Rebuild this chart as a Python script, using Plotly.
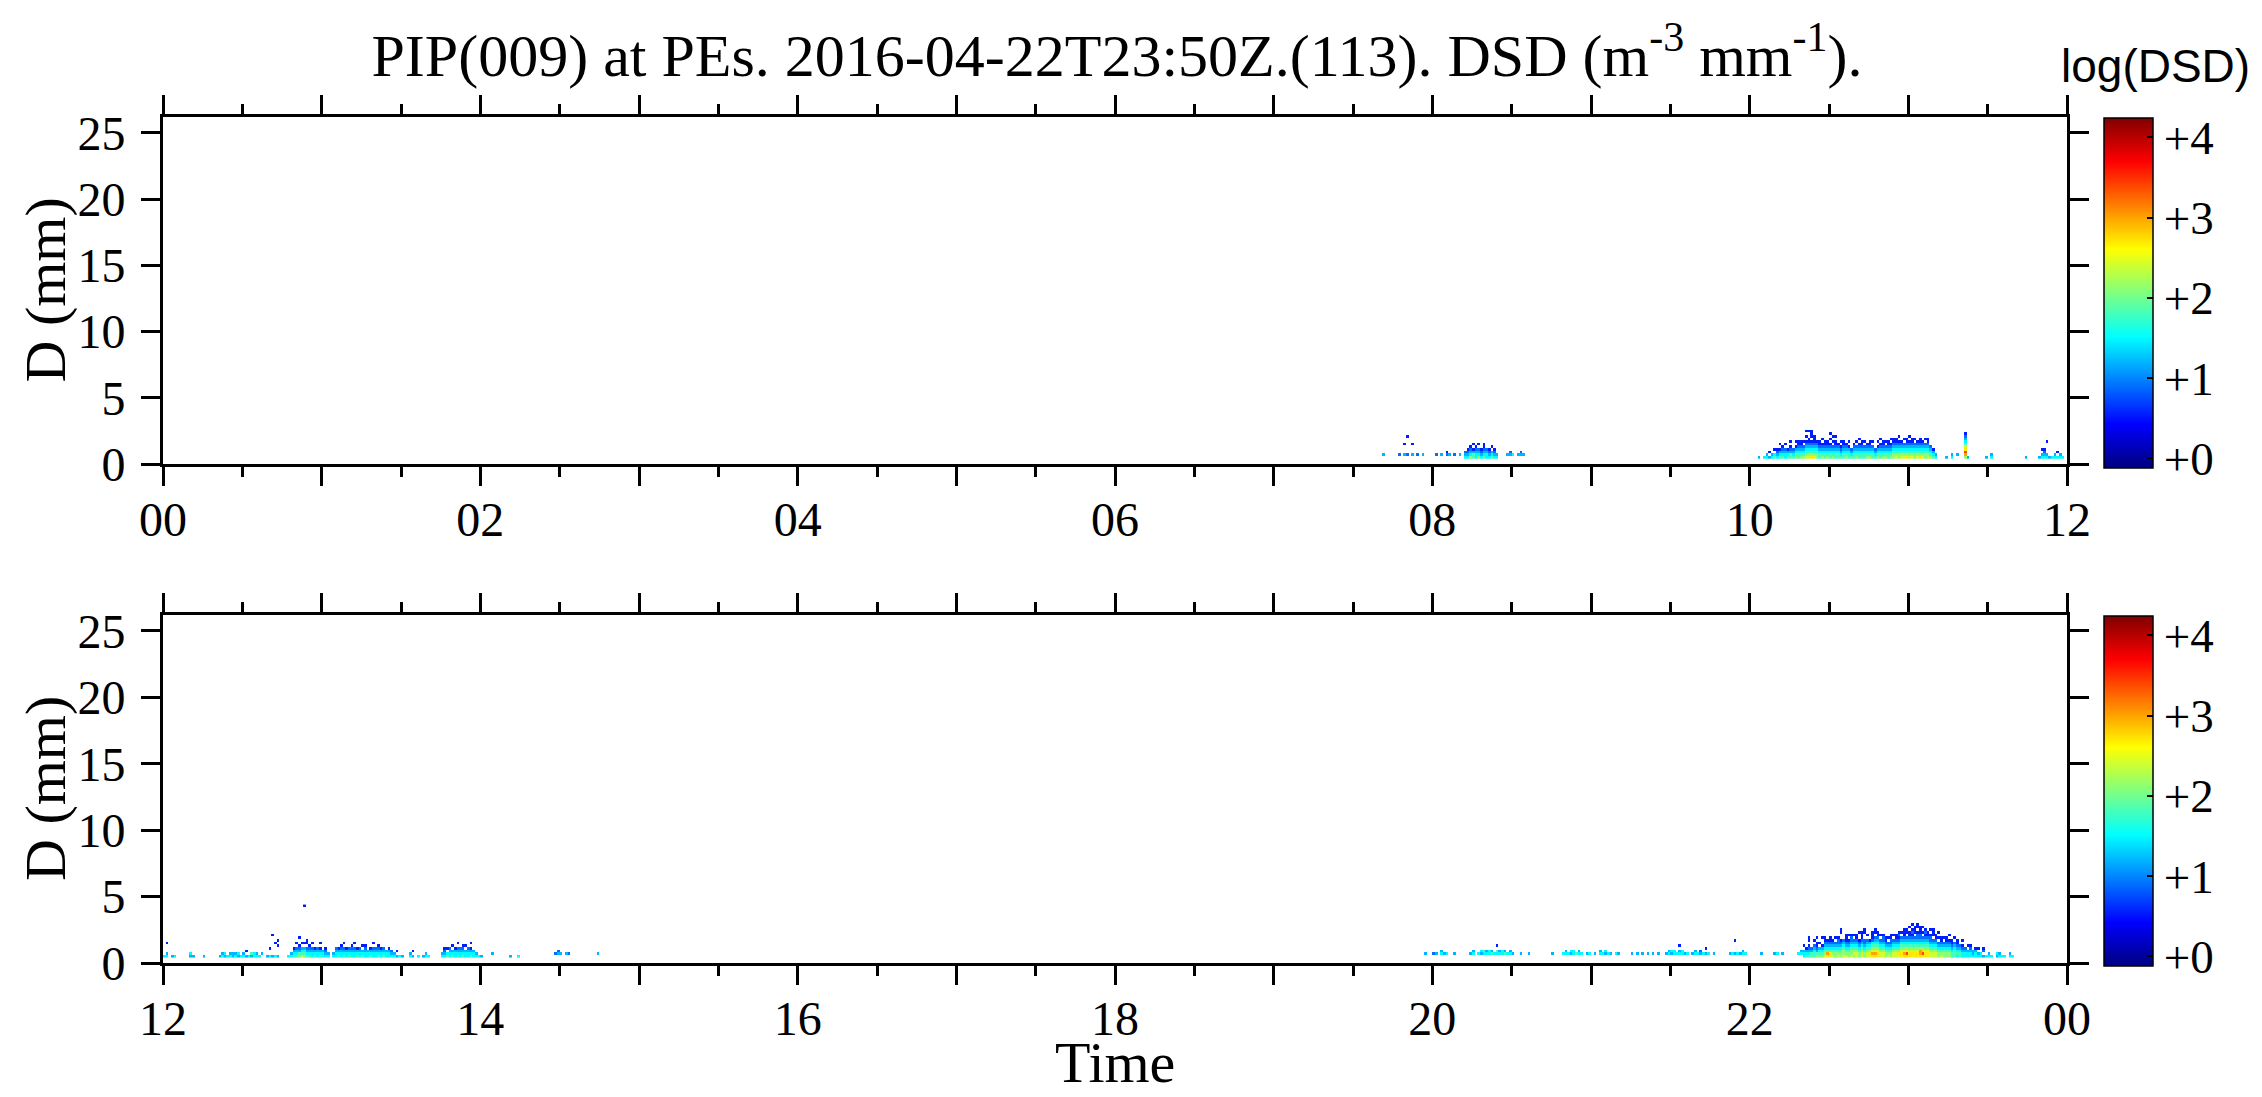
import plotly.graph_objects as go

# ---------------- data ----------------
# Diameter bins (mm): first bin lower edge and bin width
D_FIRST_EDGE = 0.4
D_BIN_WIDTH = 0.2
N_D_BINS = 20
N_MINUTES = 720  # minutes per panel (12 h)

# log(DSD) level codes used in the column strings (bottom bin upward, '.' = no data)
LEVEL_CODES = ["1", "2", "3", "4", "5", "6", "7", "8", "9", "a"]
LEVEL_VALUES = [0.55, 0.9, 1.2, 1.5, 1.8, 2.1, 2.4, 2.7, 3.0, 3.4]

# Top panel (00-12 UTC): minute of day and column of log(DSD) codes
TOP_MINUTES = [
    461, 467, 469, 470, 472, 474, 476, 481, 483, 485, 486, 488, 490,
    492, 493, 494, 495, 496, 497, 498, 499, 500, 501, 502, 503, 504,
    508, 509, 510, 512, 513, 514,
    603, 605, 606, 607, 608, 609, 610, 611, 612, 613, 614, 615, 616, 617, 618,
    619, 620, 621, 622, 623, 624, 625, 626, 627, 628, 629, 630, 631, 632, 633,
    634, 635, 636, 637, 638, 639, 640, 641, 642, 643, 644, 645, 646, 647, 648,
    649, 650, 651, 652, 653, 654, 655, 656, 657, 658, 659, 660, 661, 662, 663,
    664, 665, 666, 667, 668, 669, 670, 674, 676, 678, 681, 682, 689, 691,
    704, 709, 710, 711, 712, 713, 714, 715, 716, 717, 718,
]
TOP_COLUMNS = [
    ".3", ".2", ".3...1", ".2......1", ".3...1", ".2", ".3", ".2", ".3", ".21", ".3", ".2", ".3",
    "432", "4321", "64321", "5531.1", "44321", "6432.1", "4321", "543211", "4432", "4321", "543.1", "4321", "43",
    ".3", ".32", ".4", ".3", ".32", ".3",
    "3", "4", "43", "3.1", "43", "54.1", "4321", "5431.1", "54321", "4432.1", "5431", "55321.1", "5432", "65431.1", "5543211",
    "6543211", "65432.1", "7654321.1.1", "76543211..1", "8654321.111", "765432111", "6654321", "5543211", "654321.1", "5543211", "6543211", "554321.1.1", "65432.1.1", "5543211.1", "554321",
    "54321.1", "5543211", "654321", "55431.1", "5432", "554321", "65432.1", "554321.1", "5543211", "55432.1", "654321", "6543211", "55432.1", "5432", "65431.1",
    "554321.1", "6543211", "65432.1", "5543211", "654321.1", "66543211", "76543211", "6654321.1", "7654321", "765432.1", "86543211", "7654321.1", "76543211", "665432.1", "7654321",
    "86543211", "7654321", "665432.1", "76543211", "65432", "5431", "43", "3", "43", ".3", "69a8754321", "3", "3", "43",
    "3", "3", "43.1", "4321", "43....1", "3", "4", "43", "4.1", "43", "4",
]

# Bottom panel (12-24 UTC): minute after 12 UTC and column of log(DSD) codes
BOT_MINUTES = [
    0, 1, 3, 4, 10, 11, 15,
    21, 22, 23, 24, 25, 26, 27, 28, 29, 30, 31, 32, 33, 34, 35, 36, 37,
    39, 40, 41, 42, 43,
    47, 48, 49, 50, 51, 52, 53, 54, 55, 56, 57, 58, 59, 60, 61, 62,
    64, 65, 66, 67, 68, 69, 70, 71, 72, 73, 74, 75, 76, 77, 78, 79, 80, 81, 82, 83, 84, 85, 86, 87, 88, 89, 90,
    93, 94, 96, 98, 99, 100,
    105, 106, 107, 108, 109, 110, 111, 112, 113, 114, 115, 116, 117, 118, 119, 120,
    124, 131, 134, 148, 149, 150, 152, 153, 164,
    477, 480, 481, 483, 484, 485, 488,
    494, 495, 497, 498, 499, 500, 501, 502, 503, 504, 505, 506, 507, 508, 509, 510, 513, 516, 525,
    529, 530, 531, 532, 533, 534, 535, 536, 538, 539, 541, 543, 544, 545, 546, 547, 549, 550,
    555, 557, 559, 561, 563, 565, 568, 569, 570, 571, 572, 573, 574, 575, 576,
    578, 579, 580, 581, 582, 583, 584, 586, 592, 593, 594, 595, 596, 597, 598,
    604, 609, 610, 612, 618, 619, 620,
    621, 622, 623, 624, 625, 626, 627, 628, 629, 630, 631, 632, 633, 634, 635, 636, 637, 638, 639, 640,
    641, 642, 643, 644, 645, 646, 647, 648, 649, 650, 651, 652, 653, 654, 655, 656, 657, 658, 659, 660,
    661, 662, 663, 664, 665, 666, 667, 668, 669, 670, 671, 672, 673, 674, 675, 676, 677, 678, 679, 680,
    681, 682, 683, 684, 685, 686, 687, 688, 689, 690, 691, 693, 694, 695, 696, 698, 699, 701,
]
BOT_COLUMNS = [
    "4", "43...1", "3", "4", "34", "3", "3",
    "3", "43", "34", "4", "43", "33", "43", "34", "4", "43", "3.1", "4", "35", "44", "43", "4", ".3",
    "3", "4..1", "3.......1", "4....1", "3...1.1",
    "4", "43", "5431", "5432.1", "65321..1", "7543.1", "6543.1.............1", "5432.11", "54321", "4432.1", "5431", "4432", "5431.1", "443", "4321", "43",
    "43", "4432", "5431", "44321", "5432.1", "4431", "5432", "44321", "4432.1", "5431", "4432", "543.1", "44321", "443", "5431", "4432.1", "4432", "54321", "4431", "5432", "443", "4431", "432", "43", "3.1", "4", "3",
    "43", "3.1", "4", "3", "43", "4",
    "43", "4321", "54.1", "4432", "543.1", "4431", "5432.1", "4432", "54321", "443.1", "4432", "5431.1", "443", "43", "4", "3",
    ".3", "3", "4", ".2", ".32", ".3", ".3", ".2", ".3",
    ".3", ".2", ".3", ".43", ".3", ".4", ".3",
    ".3", ".43", ".4", ".34", ".45", ".43", ".44", ".53", ".4", ".45.1", ".43", ".44", ".53", ".4", ".43", ".3", ".3", ".3", ".3",
    ".4", ".43", ".4", ".34", ".44", ".5", ".43", ".4", ".3", ".4", ".3", ".43", ".4", ".34", ".4", ".3", ".4", ".3",
    ".3", ".3", ".3", ".3", ".3", ".3", ".3", ".43", ".34", ".44", ".4", ".43.1", ".44", ".3", ".4",
    ".3", ".43", ".4", ".32", ".4", ".3.1", ".4", ".3", ".3", ".4", ".3....1", ".4", ".3", ".43", ".4",
    ".3", ".3", ".4", ".3", ".4", ".43", "443.1",
    "5431", "54321.11", "5532", "55432.1", "653211.1", "6543.1", "65431..1", "76543211", "8954321", "78543211", "7654321", "665432.1", "76543221", "6654321..11", "7665432", "765432111", "6654321.1", "766543221", "6765432.1", "776543211",
    "6654321..1", "7765432111", "6654322..11", "7765432.1", "8865431", "8976542111", "89765432.11", "8876543211", "7765432.1", "776543221", "66543211", "765432.1", "665432211", "7765432.1", "776543211", "7865432121", "88765432.1", "89765432111", "8a865432.11", "8876543211.1",
    "78765432121.1", "88765432.111", "8876543221.11", "899654322111", "8a865432.1.1", "88765432121", "7876543211", "776543221.1", "7765432.111", "776543211", "665432.1.1", "76543211", "665432.1", "66543211", "6654321.1", "5543211", "555432.1", "4543211", "55432", "44321.1",
    "4432", "443.1", "44321", "433", "4431", "43.1", "44", "3.21", "4", "43", "4", "34", "43", "4", "4", "43", "4",
]

# Axis tick labels
TOP_TICK_VALS = list(range(0, 13))
TOP_TICK_TEXT = ["00", "", "02", "", "04", "", "06", "", "08", "", "10", "", "12"]
BOT_TICK_VALS = list(range(12, 25))
BOT_TICK_TEXT = ["12", "", "14", "", "16", "", "18", "", "20", "", "22", "", "00"]
Y_TICK_VALS = [0, 5, 10, 15, 20, 25]
CB_TICK_VALS = [0, 1, 2, 3, 4]
CB_TICK_TEXT = ["+0", "+1", "+2", "+3", "+4"]

TITLE = "PIP(009) at PEs. 2016-04-22T23:50Z.(113). DSD (m<sup>-3</sup> mm<sup>-1</sup>)."

# ---------------- build grids ----------------
code_to_val = dict(zip(LEVEL_CODES, LEVEL_VALUES))


def build_grid(minutes, columns):
    z = [[None] * N_MINUTES for _ in range(N_D_BINS)]
    for m, col in zip(minutes, columns):
        for r, ch in enumerate(col):
            if ch in code_to_val:
                z[r][m] = code_to_val[ch]
    return z


z_top = build_grid(TOP_MINUTES, TOP_COLUMNS)
z_bot = build_grid(BOT_MINUTES, BOT_COLUMNS)
x_top = [(m + 0.5) / 60.0 for m in range(N_MINUTES)]
x_bot = [12 + (m + 0.5) / 60.0 for m in range(N_MINUTES)]
y_c = [D_FIRST_EDGE + D_BIN_WIDTH * (r + 0.5) for r in range(N_D_BINS)]

# ---------------- figure ----------------
W, H = 2262, 1097
SERIF = "Liberation Serif"
SANS = "Liberation Sans"

jet = [
    [0.0, "rgb(0,0,128)"],
    [0.125, "rgb(0,0,255)"],
    [0.375, "rgb(0,255,255)"],
    [0.625, "rgb(255,255,0)"],
    [0.875, "rgb(255,0,0)"],
    [1.0, "rgb(128,0,0)"],
]

PX0, PX1 = 163, 2067
TOP_Y0, TOP_Y1 = 117, 464
BOT_Y0, BOT_Y1 = 615, 963


def fx(px):
    return px / W


def fy(py):
    return 1 - py / H


fig = go.Figure()
fig.add_trace(go.Heatmap(x=x_top, y=y_c, z=z_top, coloraxis="coloraxis",
                         xaxis="x", yaxis="y", hoverongaps=False, zsmooth=False))
fig.add_trace(go.Heatmap(x=x_bot, y=y_c, z=z_bot, coloraxis="coloraxis2",
                         xaxis="x2", yaxis="y2", hoverongaps=False, zsmooth=False))

tickfont = dict(family=SERIF, size=48, color="black")
axis_common = dict(
    showline=True, linewidth=3, linecolor="black", mirror="ticks",
    ticks="outside", ticklen=19, tickwidth=3, tickcolor="black",
    showgrid=False, zeroline=False, tickfont=tickfont, automargin=False,
)
minor = dict(tickmode="linear", dtick=0.5, ticks="outside", ticklen=10,
             tickwidth=3, tickcolor="black", showgrid=False)


def cbar(ytop, ybot):
    return dict(
        x=fx(2104), xanchor="left", xpad=0, ypad=0,
        y=fy((ytop + ybot) / 2), yanchor="middle",
        len=(ybot - ytop) / H, lenmode="fraction",
        thickness=49, thicknessmode="pixels",
        outlinewidth=1.5, outlinecolor="black",
        tickmode="array", tickvals=CB_TICK_VALS, ticktext=CB_TICK_TEXT,
        ticks="inside", ticklen=6, tickwidth=1.5, tickcolor="black",
        tickfont=dict(family=SERIF, size=47, color="black"),
    )


fig.update_layout(
    width=W, height=H, autosize=False,
    margin=dict(l=0, r=0, t=0, b=0),
    paper_bgcolor="white", plot_bgcolor="white",
    template="none",
    showlegend=False,
    title=dict(text=TITLE, x=fx(1117), xanchor="center", y=fy(55), yanchor="middle",
               font=dict(family=SERIF, size=60, color="black")),
    xaxis=dict(domain=[fx(PX0), fx(PX1)], range=[0, 12], anchor="y",
               tickmode="array", tickvals=TOP_TICK_VALS, ticktext=TOP_TICK_TEXT,
               minor=dict(minor, tick0=0), ticklabelstandoff=-8, **axis_common),
    yaxis=dict(domain=[fy(TOP_Y1), fy(TOP_Y0)], range=[0, 26.2], anchor="x",
               tickmode="array", tickvals=Y_TICK_VALS, ticklabelstandoff=6, **axis_common),
    xaxis2=dict(domain=[fx(PX0), fx(PX1)], range=[12, 24], anchor="y2",
                tickmode="array", tickvals=BOT_TICK_VALS, ticktext=BOT_TICK_TEXT,
                minor=dict(minor, tick0=12), ticklabelstandoff=-8, **axis_common),
    yaxis2=dict(domain=[fy(BOT_Y1), fy(BOT_Y0)], range=[0, 26.2], anchor="x2",
                tickmode="array", tickvals=Y_TICK_VALS, ticklabelstandoff=6, **axis_common),
    coloraxis=dict(colorscale=jet, cmin=-0.12, cmax=4.24, colorbar=cbar(118, 468)),
    coloraxis2=dict(colorscale=jet, cmin=-0.12, cmax=4.24, colorbar=cbar(616, 966)),
    annotations=[
        dict(text="D (mm)", x=fx(45), y=fy((TOP_Y0 + TOP_Y1) / 2), xref="paper", yref="paper",
             textangle=-90, showarrow=False, xanchor="center", yanchor="middle",
             font=dict(family=SERIF, size=58, color="black")),
        dict(text="D (mm)", x=fx(45), y=fy((BOT_Y0 + BOT_Y1) / 2), xref="paper", yref="paper",
             textangle=-90, showarrow=False, xanchor="center", yanchor="middle",
             font=dict(family=SERIF, size=58, color="black")),
        dict(text="Time", x=fx((PX0 + PX1) / 2), y=0, xref="paper", yref="paper",
             showarrow=False, xanchor="center", yanchor="bottom",
             font=dict(family=SERIF, size=58, color="black")),
        dict(text="log(DSD)", x=fx(2059), y=fy(66), xref="paper", yref="paper",
             showarrow=False, xanchor="left", yanchor="middle",
             font=dict(family=SANS, size=46, color="black")),
    ],
)

fig.write_html("out.html")
